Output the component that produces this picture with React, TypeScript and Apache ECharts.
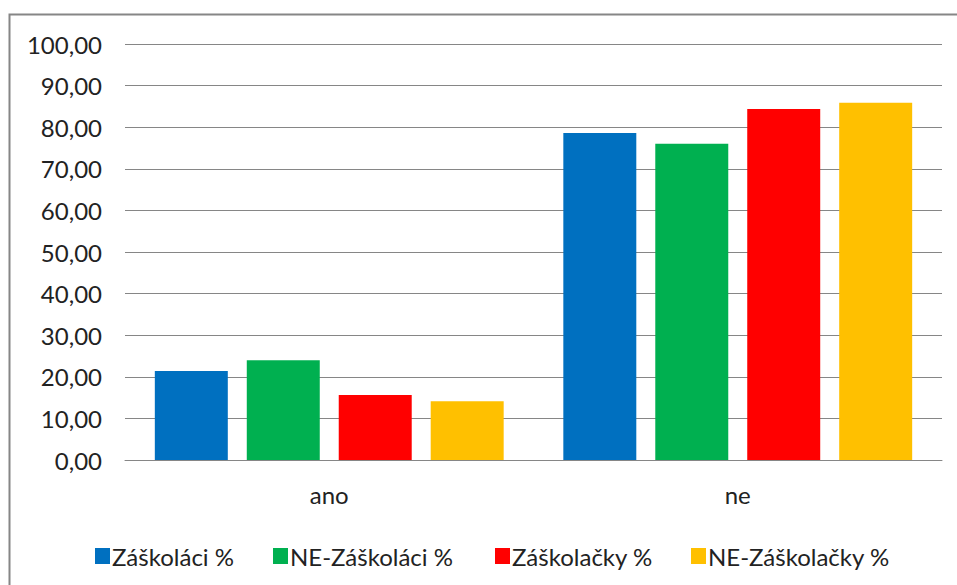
import React, { useEffect, useRef } from "react";
import * as echarts from "echarts";

const categories = ["ano", "ne"];
const seriesNames = ["Záškoláci %", "NE-Záškoláci %", "Záškolačky %", "NE-Záškolačky %"];
const zaskolaci = [21.4, 78.6];
const neZaskolaci = [24.0, 76.0];
const zaskolacky = [15.6, 84.4];
const neZaskolacky = [14.1, 85.9];
const colors = ["#0070C0", "#00B050", "#FF0000", "#FFC000"];
const legendLefts = [95, 273, 495, 691];

const FONT = "Lato, 'Noto Sans', sans-serif";

export default function App() {
  const ref = useRef<HTMLDivElement>(null);
  useEffect(() => {
    if (!ref.current) return;
    const chart = echarts.init(ref.current, undefined, { renderer: "svg" });
    const data = [zaskolaci, neZaskolaci, zaskolacky, neZaskolacky];
    chart.setOption({
      animation: false,
      backgroundColor: "#ffffff",
      textStyle: { fontFamily: FONT },
      graphic: [
        {
          type: "rect",
          shape: { x: 9.5, y: 14.5, width: 980, height: 600 },
          style: { fill: "none", stroke: "#868686", lineWidth: 2 },
          silent: true,
        },
      ],
      legend: seriesNames.map((name, i) => ({
        left: legendLefts[i],
        top: 544,
        padding: 0,
        itemWidth: 15,
        itemHeight: 16,
        icon: "rect",
        textStyle: { fontSize: 24, color: "#222", fontFamily: FONT, padding: [0, 0, 0, -3] },
        data: [name],
      })),
      grid: { left: 125, right: 15, top: 44, bottom: 125, containLabel: false },
      xAxis: {
        type: "category",
        data: categories,
        axisLine: { show: true, lineStyle: { color: "#868686", width: 1 } },
        axisTick: { show: false },
        axisLabel: { fontSize: 24, color: "#222", margin: 22, fontFamily: FONT },
      },
      yAxis: {
        type: "value",
        min: 0,
        max: 100,
        interval: 10,
        axisLine: { show: false },
        axisTick: { show: false },
        splitLine: { lineStyle: { color: "#868686", width: 1 } },
        axisLabel: {
          fontSize: 24,
          color: "#222",
          margin: 23,
          fontFamily: FONT,
          formatter: (v: number) => v.toFixed(2).replace(".", ","),
        },
      },
      series: seriesNames.map((name, i) => ({
        name,
        type: "bar",
        data: data[i],
        itemStyle: { color: colors[i] },
        barGap: "26%",
        barCategoryGap: "14.6%",
      })),
    });
    return () => chart.dispose();
  }, []);
  return (
    <div
      ref={ref}
      style={{ position: "fixed", left: 0, top: 0, width: 957, height: 585 }}
    />
  );
}
